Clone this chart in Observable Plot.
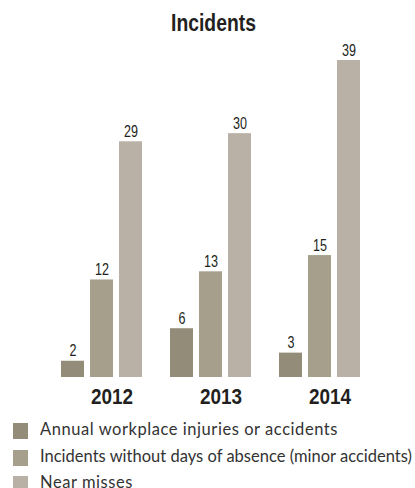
<!DOCTYPE html>
<html>
<head>
<meta charset="utf-8">
<script src="https://cdn.jsdelivr.net/npm/d3@7"></script>
<script src="https://cdn.jsdelivr.net/npm/@observablehq/plot@0.6"></script>
<style>
  body { margin: 0; background: #fff; width: 415px; overflow: hidden; }
  #title { height: 35px; box-sizing: border-box; padding-top: 12px; padding-left: 12px; text-align: center;
    font-family: "Liberation Sans", sans-serif; font-weight: bold;
    font-size: 23px; line-height: 23px; color: #231f20; }
  #title span { display: inline-block; transform: scaleX(0.84); }
  #legend { padding-top: 3px; font-family: "Lato", sans-serif; font-size: 16.5px; color: #333; }
  .row { display: flex; align-items: center; height: 26.4px; padding-left: 13px; white-space: nowrap; }
  .sw { width: 15px; height: 16px; margin-right: 12px; flex: none; }
  .lt { display: inline-block; position: relative; top: -2px; line-height: 12px; }
</style>
</head>
<body>
<div id="title"><span></span></div>
<div id="chart"></div>
<div id="legend"></div>
<script>
const titleText = "Incidents";
const years = ["2012", "2013", "2014"];
const series = [
  "Annual workplace injuries or accidents",
  "Incidents without days of absence (minor accidents)",
  "Near misses"
];
const injuries = [2, 6, 3];
const minorAccidents = [12, 13, 15];
const nearMisses = [29, 30, 39];
const colors = ["#938c78", "#a59f8c", "#b9b1a5"];

const seriesValues = [injuries, minorAccidents, nearMisses];
const data = years.flatMap((yr, i) => series.map((s, j) => ({year: yr, series: s, value: seriesValues[j][i]})));

document.querySelector("#title span").textContent = titleText;

const chart = Plot.plot({
  width: 415,
  height: 380,
  marginTop: 25,
  marginBottom: 38,
  marginLeft: 46,
  marginRight: 40.5,
  style: {fontFamily: '"Liberation Sans", sans-serif', overflow: "visible", background: "#fff", color: "#231f20"},
  fx: {domain: years, paddingInner: 0.254, paddingOuter: 0.127, label: null},
  x: {domain: series, paddingInner: 0.215, paddingOuter: 0, axis: null},
  y: {domain: [0, 39], axis: null},
  color: {domain: series, range: colors},
  marks: [
    Plot.barY(data, {fx: "year", x: "series", y: "value", fill: "series"}),
    Plot.text(data, {fx: "year", x: "series", y: "value", text: d => String(d.value),
      dy: -5, lineAnchor: "bottom", fontSize: 17, fill: "#231f20"}),
    Plot.axisFx({anchor: "bottom", tickSize: 0, tickPadding: 11, dx: 10, fontSize: 22, fontWeight: "bold", label: null, fill: "#231f20"})
  ]
});
document.getElementById("chart").appendChild(chart);

// narrow the glyphs horizontally to imitate the condensed face of the reference
chart.querySelectorAll("text").forEach(t => {
  const fs = parseFloat(t.getAttribute("font-size") || t.parentNode.getAttribute("font-size") || "0");
  const s = fs >= 20 ? 0.86 : 0.74;
  let tr = t.getAttribute("transform");
  if (!tr) {
    const x = +(t.getAttribute("x") || 0), y = +(t.getAttribute("y") || 0);
    t.removeAttribute("x"); t.removeAttribute("y");
    tr = `translate(${x},${y})`;
  }
  t.setAttribute("transform", `${tr} scale(${s},1)`);
});

const legend = document.getElementById("legend");
const labels = series.map((s, j) => {
  const row = document.createElement("div");
  row.className = "row";
  const sw = document.createElement("span");
  sw.className = "sw";
  sw.style.background = colors[j];
  const t = document.createElement("span");
  t.className = "lt";
  t.textContent = s;
  row.appendChild(sw);
  row.appendChild(t);
  legend.appendChild(row);
  return t;
});
// spacing of the legend lines so they span as in the reference
const fitWidths = [298, 372];
fitWidths.forEach((w, j) => {
  const t = labels[j];
  const cur = t.getBoundingClientRect().width;
  const n = t.textContent.length;
  t.style.letterSpacing = ((w - cur) / n) + "px";
});
labels[2].style.letterSpacing = labels[0].style.letterSpacing;
</script>
</body>
</html>
